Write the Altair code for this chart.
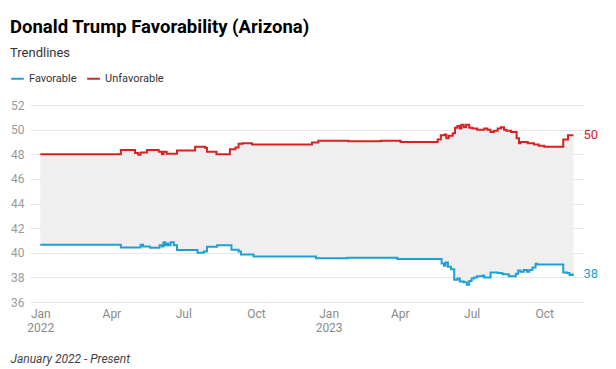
import altair as alt
import pandas as pd

# ---- data ----
series_names = ["Favorable", "Unfavorable"]
series_colors = ["#1f9fd3", "#d62222"]

fav_dates = [
    "2022-01-01", "2022-04-13", "2022-05-08", "2022-05-11", "2022-05-20", "2022-06-01",
    "2022-06-04", "2022-06-06", "2022-06-08", "2022-06-10", "2022-06-12", "2022-06-15",
    "2022-06-19", "2022-06-23", "2022-07-19", "2022-07-27", "2022-07-31", "2022-08-13",
    "2022-08-31", "2022-09-09", "2022-09-12", "2022-09-28", "2022-12-16", "2023-01-25",
    "2023-03-29", "2023-05-24", "2023-05-27", "2023-05-29", "2023-06-01", "2023-06-05",
    "2023-06-09", "2023-06-13", "2023-06-16", "2023-06-21", "2023-06-25", "2023-06-28",
    "2023-07-01", "2023-07-04", "2023-07-08", "2023-07-15", "2023-07-17", "2023-07-25",
    "2023-08-03", "2023-08-09", "2023-08-17", "2023-08-26", "2023-08-29", "2023-09-01",
    "2023-09-05", "2023-09-09", "2023-09-12", "2023-09-16", "2023-09-20", "2023-09-22",
    "2023-10-25", "2023-10-30", "2023-11-02", "2023-11-06", "2023-11-07",
]
fav_values = [
    40.65, 40.43, 40.65, 40.5, 40.4, 40.6,
    40.5, 40.85, 40.6, 40.75, 40.6, 40.85,
    40.6, 40.22, 40.0, 40.1, 40.49, 40.6,
    40.25, 40.1, 39.86, 39.7, 39.55, 39.6,
    39.5, 39.13, 38.94, 39.2, 38.86, 38.67,
    37.8, 37.9, 37.67, 37.6, 37.4, 37.7,
    37.9, 38.0, 38.1, 38.15, 38.0, 38.4,
    38.35, 38.25, 38.1, 38.3, 38.55, 38.45,
    38.6, 38.45, 38.6, 38.8, 39.1, 39.05,
    38.4, 38.35, 38.2, 38.25, 38.25,
]

unfav_dates = [
    "2022-01-01", "2022-04-13", "2022-05-01", "2022-05-05", "2022-05-08", "2022-05-16",
    "2022-05-31", "2022-06-04", "2022-06-06", "2022-06-10", "2022-06-23", "2022-07-16",
    "2022-07-29", "2022-07-31", "2022-08-12", "2022-08-29", "2022-09-05", "2022-09-09",
    "2022-09-14", "2022-09-26", "2022-12-11", "2022-12-19", "2023-01-26", "2023-03-08",
    "2023-04-02", "2023-05-19", "2023-05-23", "2023-05-28", "2023-05-30", "2023-06-02",
    "2023-06-07", "2023-06-10", "2023-06-13", "2023-06-16", "2023-06-18", "2023-06-21",
    "2023-06-24", "2023-06-28", "2023-07-02", "2023-07-08", "2023-07-17", "2023-07-21",
    "2023-07-25", "2023-07-29", "2023-08-03", "2023-08-07", "2023-08-11", "2023-08-14",
    "2023-08-20", "2023-08-27", "2023-08-30", "2023-09-01", "2023-09-10", "2023-09-18",
    "2023-09-24", "2023-10-01", "2023-10-25", "2023-10-31", "2023-11-07",
]
unfav_values = [
    48.0, 48.35, 48.1, 47.95, 48.15, 48.35,
    48.2, 48.0, 48.2, 48.05, 48.3, 48.6,
    48.5, 48.2, 48.0, 48.4, 48.55, 48.85,
    48.9, 48.8, 48.95, 49.1, 49.05, 49.1,
    49.0, 49.2, 49.55, 49.6, 49.3, 49.5,
    49.7, 50.15, 50.3, 50.1, 50.4, 50.2,
    50.4, 50.15, 50.1, 50.0, 50.1, 50.0,
    49.8, 49.9, 50.1, 50.2, 50.0, 49.9,
    49.8, 49.3, 48.9, 49.0, 48.9, 48.8,
    48.7, 48.6, 49.2, 49.55, 49.55,
]

x_tick_dates = [
    (2022, 1), (2022, 4), (2022, 7), (2022, 10),
    (2023, 1), (2023, 4), (2023, 7), (2023, 10),
]
y_ticks = [36, 38, 40, 42, 44, 46, 48, 50, 52]

title_text = "Donald Trump Favorability (Arizona)"
subtitle_text = "Trendlines"
footer_text = "January 2022 - Present"

# ---- tables ----
fav = pd.DataFrame({"date": pd.to_datetime(fav_dates), "value": fav_values,
                    "series": series_names[0]})
unfav = pd.DataFrame({"date": pd.to_datetime(unfav_dates), "value": unfav_values,
                      "series": series_names[1]})
long_df = pd.concat([fav, unfav], ignore_index=True)

all_dates = sorted(set(fav["date"]) | set(unfav["date"]))
wide = pd.DataFrame({"date": all_dates})
wide = wide.merge(fav[["date", "value"]].rename(columns={"value": "fav"}), on="date", how="left")
wide = wide.merge(unfav[["date", "value"]].rename(columns={"value": "unfav"}), on="date", how="left")
wide = wide.ffill()

last_df = long_df.sort_values("date").groupby("series", as_index=False).last()

x_scale = alt.Scale(domain=[alt.DateTime(year=2021, month=12, date=19),
                            alt.DateTime(year=2023, month=11, date=19)])
y_scale = alt.Scale(domain=[36, 52], nice=False, zero=False)
color_scale = alt.Scale(domain=series_names, range=series_colors)

x_axis = alt.Axis(
    values=[alt.DateTime(year=y, month=m, date=1) for y, m in x_tick_dates],
    labelExpr="month(datum.value) == 0 ? [timeFormat(datum.value, '%b'), timeFormat(datum.value, '%Y')] : timeFormat(datum.value, '%b')",
    grid=False, domain=False, ticks=False,
    labelColor="#8a8a8a", labelFontSize=12, labelPadding=6, labelFont="Roboto",
    title=footer_text, titleFont="Roboto", titleFontStyle="italic", titleFontWeight="normal",
    titleFontSize=12, titleColor="#444444", titleAnchor="start", titleAlign="left",
    titleX=-20, titleY=56, titleBaseline="middle",
)
y_axis = alt.Axis(
    values=y_ticks, grid=True, gridColor="#e6e6e6", domain=False, ticks=False,
    labelColor="#9a9a9a", labelFontSize=12, labelPadding=6, labelFont="Roboto",
    labelOverlap=False, title=None,
)

area = alt.Chart(wide).mark_area(interpolate="step-after", color="#efefef").encode(
    x=alt.X("date:T", scale=x_scale, axis=x_axis),
    y=alt.Y("fav:Q", scale=y_scale, axis=y_axis),
    y2="unfav:Q",
)

lines = alt.Chart(long_df).mark_line(interpolate="step-after", strokeWidth=2).encode(
    x=alt.X("date:T", scale=x_scale, axis=x_axis),
    y=alt.Y("value:Q", scale=y_scale, axis=y_axis),
    color=alt.Color("series:N", scale=color_scale, legend=alt.Legend(
        title=None, orient="none", legendX=-20, legendY=-34, direction="horizontal",
        symbolType="stroke", symbolStrokeWidth=2, symbolSize=160,
        labelFont="Roboto", labelFontSize=11, labelColor="#333333", columnPadding=6,
        labelOffset=4,
    )),
)

labels = alt.Chart(last_df).mark_text(align="left", dx=10, fontSize=13, font="Roboto").encode(
    x=alt.X("date:T", scale=x_scale, axis=x_axis),
    y=alt.Y("value:Q", scale=y_scale, axis=y_axis),
    text=alt.Text("value:Q", format=".0f"),
    color=alt.Color("series:N", scale=color_scale, legend=None),
)

chart = (area + lines + labels).properties(
    width=553, height=197,
    padding={"left": 2, "top": 9, "right": 5, "bottom": 5},
    title=alt.TitleParams(
        text=title_text, subtitle=subtitle_text, anchor="start", font="Roboto",
        fontSize=18.5, fontWeight="bold", color="#000000",
        subtitleFont="Roboto", subtitleFontSize=13, subtitleColor="#333333",
        subtitlePadding=11, offset=11,
    ),
).configure_view(stroke=None)

chart.save("out.html", embed_options={"renderer": "svg", "actions": False})
